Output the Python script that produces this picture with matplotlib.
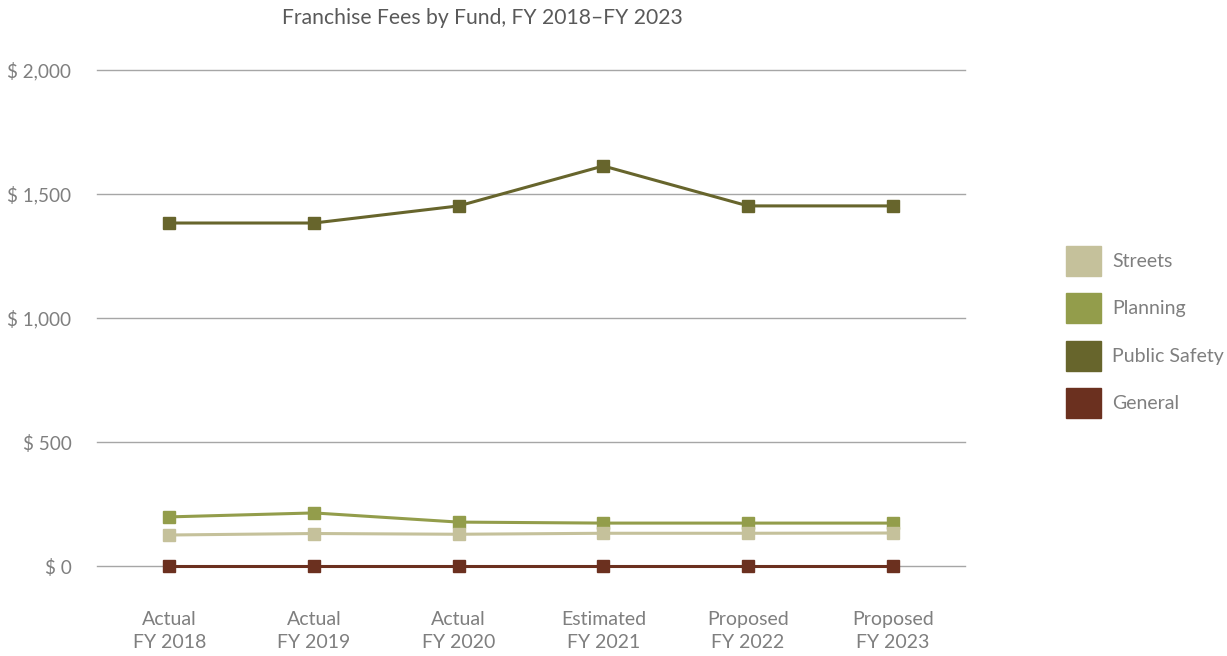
import matplotlib.pyplot as plt
from matplotlib.patches import Patch
from matplotlib.ticker import FuncFormatter

plt.rcParams['font.family'] = ['Lato', 'DejaVu Sans']

years = ["Actual\nFY 2018", "Actual\nFY 2019", "Actual\nFY 2020",
         "Estimated\nFY 2021", "Proposed\nFY 2022", "Proposed\nFY 2023"]
streets = [125, 131, 128, 132, 132, 133]
planning = [198, 214, 177, 173, 173, 173]
public_safety = [1383, 1383, 1452, 1613, 1452, 1452]
general = [0, 0, 0, 0, 0, 0]

series = [
    ("Streets", streets, "#c5c19b"),
    ("Planning", planning, "#939d4b"),
    ("Public Safety", public_safety, "#67652c"),
    ("General", general, "#6b301f"),
]

fig = plt.figure(figsize=(12.27, 6.56), dpi=100)
ax = fig.add_axes([97 / 1227, 1 - 566 / 656, 868 / 1227, 496 / 656])

x = list(range(len(years)))
for name, vals, color in reversed(series):
    ax.plot(x, vals, color=color, lw=2.2, marker="s", markersize=8,
            clip_on=False, zorder=3)

ax.set_xlim(-0.5, len(years) - 0.5)
ax.set_ylim(0, 2000)
ax.set_yticks([0, 500, 1000, 1500, 2000])
ax.yaxis.set_major_formatter(FuncFormatter(lambda v, p: f"$ {v:,.0f}"))
ax.grid(axis="y", color="#a6a6a6", lw=1, clip_on=False)
ax.set_axisbelow(True)
for s in ax.spines.values():
    s.set_visible(False)
ax.tick_params(length=0, labelsize=14, labelcolor="#7f7f7f")
ax.tick_params(axis="y", labelsize=13.6, pad=18.5)
ax.tick_params(axis="x", pad=32.5)
ax.set_xticks(x)
ax.set_xticklabels(years, linespacing=1.45)

fig.text(482 / 1227, 1 - 18 / 656, "Franchise Fees by Fund, FY 2018\u2013FY 2023",
         ha="center", va="center", fontsize=15.2, color="#595959")

handles = [Patch(color=c, label=n) for n, _, c in series]
fig.legend(handles=handles, loc="center left", bbox_to_anchor=(1048 / 1227, 1 - 332 / 656),
           frameon=False, fontsize=14, labelcolor="#7f7f7f",
           handlelength=1.8, handleheight=2.0, labelspacing=0.9, handletextpad=0.6)

fig.savefig("out.png", dpi=100)
